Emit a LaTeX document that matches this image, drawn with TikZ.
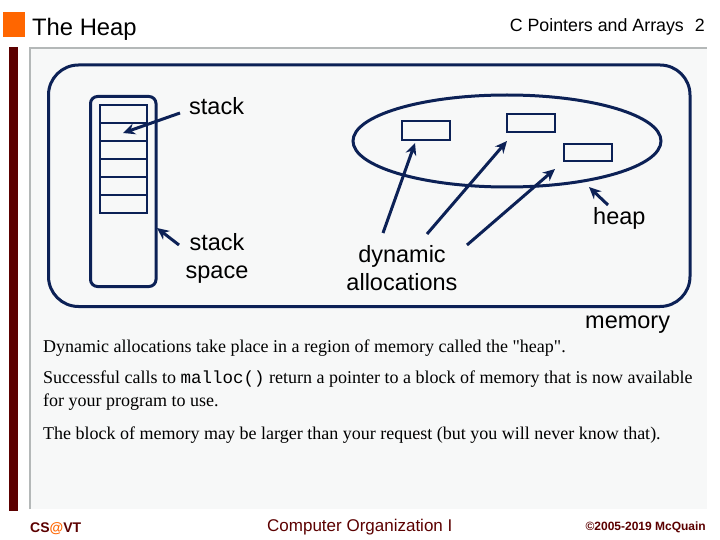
\documentclass[tikz,border=0pt]{standalone}
\usepackage{fontspec}
\setmainfont{Liberation Serif}
\setsansfont{Liberation Sans}
\setmonofont{Liberation Mono}
\usetikzlibrary{arrows.meta}
\definecolor{navy}{HTML}{0C2156}
\definecolor{darkred}{HTML}{5C0000}
\definecolor{vtorange}{HTML}{FF6600}
\definecolor{panelgray}{HTML}{F7F8F8}
\definecolor{linegray}{HTML}{B4B8B8}
\begin{document}
\begin{tikzpicture}[x=1pt,y=-1pt,
  shape line/.style={draw=navy,line width=3pt},
  cell/.style={draw=navy,line width=2.7pt},
  ptr/.style={draw=navy,line width=3pt,-{Stealth[length=12pt,width=11pt]}},
  lbl/.style={font=\sffamily\fontsize{23.5}{28}\selectfont,inner sep=0pt,text=black},
  para/.style={font=\rmfamily\fontsize{18}{21}\selectfont,inner sep=0pt,anchor=base west},
  foot/.style={font=\sffamily\bfseries\fontsize{14}{16}\selectfont,inner sep=0pt,text=darkred,anchor=base west}]
\useasboundingbox (0,0) rectangle (720,540);
\fill[white] (0,0) rectangle (720,540);
% frame
\fill[vtorange] (3,12) rectangle (25,37);
\fill[darkred] (9,47) rectangle (18,511);
\fill[panelgray] (30,48) rectangle (707,509);
\draw[linegray,line width=2pt] (30,509) -- (30,48) -- (707,48);
\node[font=\sffamily\fontsize{23.8}{28}\selectfont,inner sep=0pt,anchor=base west] (title) at (32,36) {The Heap};
\node[font=\sffamily\fontsize{17.8}{20}\selectfont,inner sep=0pt,anchor=base east] (hdr) at (705,32) {C Pointers and Arrays\hspace{11pt}2};
% memory
\draw[shape line,rounded corners=30pt] (48.5,65) rectangle (690,306.5);
% stack
\draw[shape line,rounded corners=7pt] (90.5,96.5) rectangle (156,286.5);
\foreach \i in {0,...,5} {
  \draw[cell] (100,{105+18*\i}) rectangle (147,{105+18*(\i+1)});
}
\coordinate (cellpt) at (123,133);
\coordinate (stkedge) at (157,228);
% heap
\draw[shape line] (507,141) ellipse [x radius=154pt,y radius=46pt];
\coordinate (heapedge) at (589,187);
\draw[cell] (402,121) rectangle (450,140);
\draw[cell] (507,114) rectangle (555,132);
\draw[cell] (564,144) rectangle (612,161);
\coordinate (b1) at (415,143);
\coordinate (b2) at (507,141);
\coordinate (b3) at (555,169);
% labels
\node[lbl,anchor=base west] (stack) at (189,115) {stack};
\node[lbl,anchor=north,align=center] (stackspace) at (217,233) {stack\\space};
\node[lbl,anchor=north,align=center] (dyn) at (402,245) {dynamic\\allocations};
\node[lbl,anchor=base west] (heap) at (593,225) {heap};
\node[lbl,anchor=base west] (memory) at (585,328) {memory};
% arrows
\coordinate (s1) at (180,113);
\coordinate (s2) at (179,245);
\coordinate (d1) at (383,233);
\coordinate (d2) at (427,234);
\coordinate (d3) at (467,245);
\coordinate (h1) at (608,205);
\draw[ptr] (s1) -- (cellpt);
\draw[ptr] (s2) -- (stkedge);
\draw[ptr] (d1) -- (b1);
\draw[ptr] (d2) -- (b2);
\draw[ptr] (d3) -- (b3);
\draw[ptr] (h1) -- (heapedge);
% paragraphs
\node[para] (p1) at (43,352) {Dynamic allocations take place in a region of memory called the \textquotedbl heap\textquotedbl.};
\node[para] (p2) at (43,383) {Successful calls to \texttt{\fontsize{17.5}{21}\selectfont malloc()} return a pointer to a block of memory that is now available};
\node[para] (p3) at (43,406) {for your program to use.};
\node[para] (p4) at (43,439) {The block of memory may be larger than your request (but you will never know that).};
% footer
\node[foot] (cs) at (30,532) {CS\textcolor{vtorange}{@}VT};
\node[font=\sffamily\fontsize{17}{20}\selectfont,inner sep=0pt,text=darkred,anchor=base west] (co) at (267,531) {Computer Organization I};
\node[foot,font=\sffamily\bfseries\fontsize{12}{14}\selectfont,anchor=base east] (cp) at (706,530) {\textcopyright2005-2019 McQuain};
\end{tikzpicture}
\end{document}
